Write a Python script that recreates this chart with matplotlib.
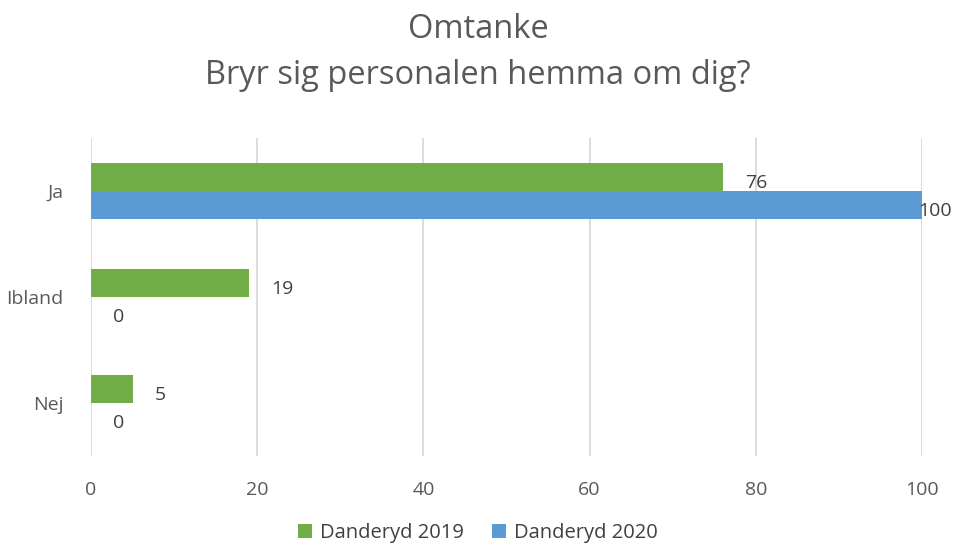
import numpy as np
import matplotlib.pyplot as plt

categories = ['Ja', 'Ibland', 'Nej']
series_names = ['Danderyd 2019', 'Danderyd 2020']
values_2019 = [76, 19, 5]
values_2020 = [100, 0, 0]
xticks = [0, 20, 40, 60, 80, 100]

green = '#70AD47'
blue = '#5B9BD5'
text_col = '#595959'
grid_col = '#D9D9D9'

plt.rcParams['font.family'] = ['Open Sans', 'DejaVu Sans']

fig = plt.figure(figsize=(9.56, 5.49), dpi=100)
W, H = 956, 549
ax = fig.add_axes([91 / W, 1 - 456 / H, (922 - 91) / W, (456 - 138) / H])

y = np.arange(len(categories))
h = 0.264
b1 = ax.barh(y - h / 2, values_2019, height=h, color=green, label=series_names[0])
b2 = ax.barh(y + h / 2, values_2020, height=h, color=blue, label=series_names[1])

ax.set_xlim(0, 100)
ax.set_ylim(2.5, -0.5)
ax.set_xticks(xticks)
ax.set_yticks(y)
ax.set_yticklabels(categories)
ax.tick_params(axis='both', length=0, labelsize=14, colors=text_col)
ax.tick_params(axis='x', pad=18)
ax.tick_params(axis='y', pad=20)
for s in ax.spines.values():
    s.set_visible(False)
ax.grid(axis='x', color=grid_col, linewidth=1.3)
ax.set_axisbelow(True)

for bars, vals in [(b1, values_2019), (b2, values_2020)]:
    for rect, v in zip(bars, vals):
        yc = rect.get_y() + rect.get_height() / 2
        off = 16 if v < 100 else -3
        ax.annotate(str(v), (v, yc), xytext=(off, -4), textcoords='offset points',
                    ha='left', va='center', fontsize=14, color='#404040')

fig.text(0.5, 1 - 30 / H, 'Omtanke', ha='center', va='center', fontsize=23.5, color=text_col)
fig.text(0.5, 1 - 75 / H, 'Bryr sig personalen hemma om dig?', ha='center', va='center',
         fontsize=23.5, color=text_col)

fig.legend(handles=[b1, b2], loc='center', bbox_to_anchor=(0.5, 1 - 533 / H), ncol=2,
           frameon=False, fontsize=14.5, labelcolor='#404040', handlelength=0.7,
           handleheight=0.7, handletextpad=0.4, columnspacing=1.4)

fig.savefig('out.png', dpi=100)
